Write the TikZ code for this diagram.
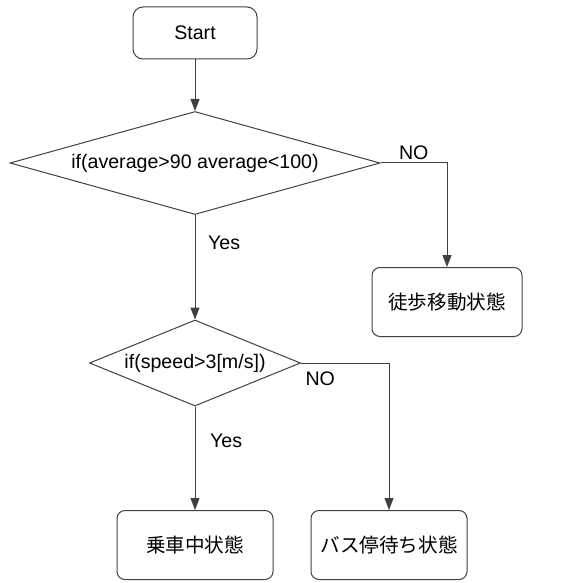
\documentclass[tikz,border=0pt]{standalone}
\usepackage{fontspec}
\setmainfont{Liberation Sans}
\newfontfamily\jpfont{Noto Sans CJK JP}
\usetikzlibrary{arrows.meta,shapes.geometric,positioning}

\begin{document}
\begin{tikzpicture}[
	node distance = 60pt,
	on grid,
	> = {Triangle[length=6pt,width=4.5pt]},
	font = \fontsize{9.8}{12}\selectfont,
	line width = 0.5pt,
	conn/.style = {draw=black!75, ->},
	startbox/.style = {draw=black!75, rounded corners=5pt, minimum width=62pt, minimum height=26pt},
	statebox/.style = {draw=black!75, rounded corners=4pt, minimum width=78pt, minimum height=34.5pt, font=\fontsize{9.8}{12}\selectfont\jpfont},
	decision/.style = {draw=black!75, diamond, inner sep=0pt}
	]
	\useasboundingbox (0,0) rectangle (293.5pt,-291pt);
	\node[startbox] (start) at (97.5pt,-16.5pt) {Start};
	\node[decision, aspect=3.6, minimum width=185pt, minimum height=51.5pt] (avg) [below=65pt of start] {if(average>90 average<100)};
	\node[statebox, minimum width=75pt] (walk) [below right=69.5pt and 126pt of avg] {徒歩移動状態};
	\node[decision, aspect=2.45, minimum width=105.5pt, minimum height=43pt] (speed) [below=100pt of avg] {if(speed>3[m/s])};
	\node[statebox] (ride) [below=91pt of speed] {乗車中状態};
	\node[statebox] (wait) [right=97pt of ride] {バス停待ち状態};
	\draw[conn] (start) -- (avg);
	\draw[conn] (avg.east) -| node[pos=0.25, above, inner sep=1.5pt] {NO} (walk.north);
	\draw[conn] (avg.south) -- node[pos=0.27, right, xshift=3pt] {Yes} (speed.north);
	\draw[conn] (speed.east) -| node[pos=0, below right, inner sep=2pt, yshift=-2pt] {NO} (wait.north);
	\draw[conn] (speed.south) -- node[pos=0.33, right, xshift=4pt] {Yes} (ride.north);
\end{tikzpicture}
\end{document}
